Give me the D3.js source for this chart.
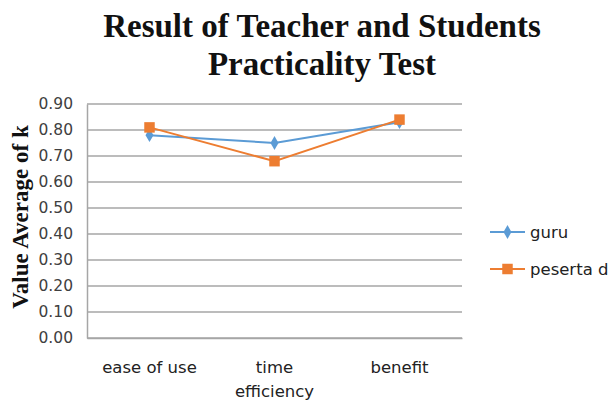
<!DOCTYPE html>
<html>
<head>
<meta charset="utf-8">
<script src="https://cdn.jsdelivr.net/npm/d3@7"></script>
<style>
  body { margin: 0; background: #fff; overflow: hidden; }
  svg { display: block; }
</style>
</head>
<body>
<script>
var categories = ["ease of use", "time efficiency", "benefit"];
var guru = [0.78, 0.75, 0.83];
var peserta = [0.81, 0.68, 0.84];
var yTicks = [0, 0.1, 0.2, 0.3, 0.4, 0.5, 0.6, 0.7, 0.8, 0.9];

var chartWidth = 614;
var chartHeight = 403;
var margin = {top: 104, right: 152, bottom: 65, left: 87};
var width = chartWidth - margin.left - margin.right;
var height = chartHeight - margin.top - margin.bottom;

var sans = "'DejaVu Sans', sans-serif";
var serif = "'Liberation Serif', serif";

var svg = d3.select("body")
            .append("svg")
            .attr("width", chartWidth)
            .attr("height", chartHeight);

var xScale = d3.scaleBand()
               .domain(categories)
               .range([0, width]);

var yScale = d3.scaleLinear()
               .domain([0, 0.9])
               .range([height, 0]);

var chartGroup = svg.append("g")
                    .attr("transform", "translate(" + margin.left + "," + margin.top + ")");

// title, two lines
["Result of Teacher and Students", "Practicality Test"].forEach(function(t, i) {
  svg.append("text")
     .attr("text-anchor", "middle")
     .attr("x", 322)
     .attr("y", 37 + i * 38)
     .style("font-family", serif)
     .style("font-weight", "bold")
     .style("font-size", "33px")
     .attr("fill", "#111")
     .text(t);
});

// gridlines
chartGroup.selectAll(".grid")
          .data(yTicks)
          .enter()
          .append("line")
          .attr("x1", 0)
          .attr("x2", width)
          .attr("y1", function(d) { return yScale(d); })
          .attr("y2", function(d) { return yScale(d); })
          .attr("stroke", "#a6a6a6")
          .attr("stroke-width", 1.5);

// y axis
var yAxis = chartGroup.append("g")
          .call(d3.axisLeft(yScale)
            .tickValues(yTicks)
            .tickFormat(d3.format(".2f"))
            .tickSize(0)
            .tickPadding(14));
yAxis.select(".domain").attr("stroke", "#a6a6a6").attr("stroke-width", 1.5);
yAxis.selectAll("text")
     .style("font-family", sans)
     .style("font-size", "15.5px")
     .attr("fill", "#404040");

// x axis
var xAxis = chartGroup.append("g")
          .attr("transform", "translate(0," + height + ")")
          .call(d3.axisBottom(xScale).tickSize(0).tickPadding(23));
xAxis.select(".domain").attr("stroke", "#a6a6a6").attr("stroke-width", 1.5);
xAxis.selectAll("text")
     .style("font-family", sans)
     .style("font-size", "16.5px")
     .attr("fill", "#222")
     .each(function(d) {
       var t = d3.select(this);
       if (d === "time efficiency") {
         var words = d.split(" ");
         t.text(null);
         t.append("tspan").attr("x", 0).attr("dy", "0.71em").text(words[0]);
         t.append("tspan").attr("x", 0).attr("dy", "1.5em").text(words[1]);
         t.attr("dy", null);
       }
     });

// y axis label
svg.append("text")
   .attr("text-anchor", "middle")
   .attr("transform", "translate(28," + (margin.top + height / 2 - 4) + ") rotate(-90)")
   .style("font-family", serif)
   .style("font-weight", "bold")
   .style("font-size", "23px")
   .attr("fill", "#111")
   .text("Value Average of k");

var line = d3.line()
             .x(function(d, i) { return xScale(categories[i]) + xScale.bandwidth() / 2; })
             .y(function(d) { return yScale(d); });

var series = [
  {name: "guru", values: guru, color: "#5b9bd5", shape: d3.symbolDiamond, size: 55},
  {name: "peserta d", values: peserta, color: "#ed7d31", shape: d3.symbolSquare, size: 110}
];

series.forEach(function(s) {
  chartGroup.append("path")
            .datum(s.values)
            .attr("fill", "none")
            .attr("stroke", s.color)
            .attr("stroke-width", 2)
            .attr("d", line);
  chartGroup.selectAll(null)
            .data(s.values)
            .enter()
            .append("path")
            .attr("transform", function(d, i) {
              return "translate(" + (xScale(categories[i]) + xScale.bandwidth() / 2) + "," + yScale(d) + ")";
            })
            .attr("d", d3.symbol().type(s.shape).size(s.size))
            .attr("fill", s.color);
});

// legend
var legend = svg.append("g");
series.forEach(function(s, i) {
  var ly = 232 + i * 37;
  legend.append("line")
        .attr("x1", 490).attr("x2", 525)
        .attr("y1", ly).attr("y2", ly)
        .attr("stroke", s.color).attr("stroke-width", 2);
  legend.append("path")
        .attr("transform", "translate(507.5," + ly + ")")
        .attr("d", d3.symbol().type(s.shape).size(s.size))
        .attr("fill", s.color);
  legend.append("text")
        .attr("x", 530)
        .attr("y", ly + 6)
        .style("font-family", sans)
        .style("font-size", "16.5px")
        .attr("fill", "#222")
        .text(s.name);
});
</script>
</body>
</html>
